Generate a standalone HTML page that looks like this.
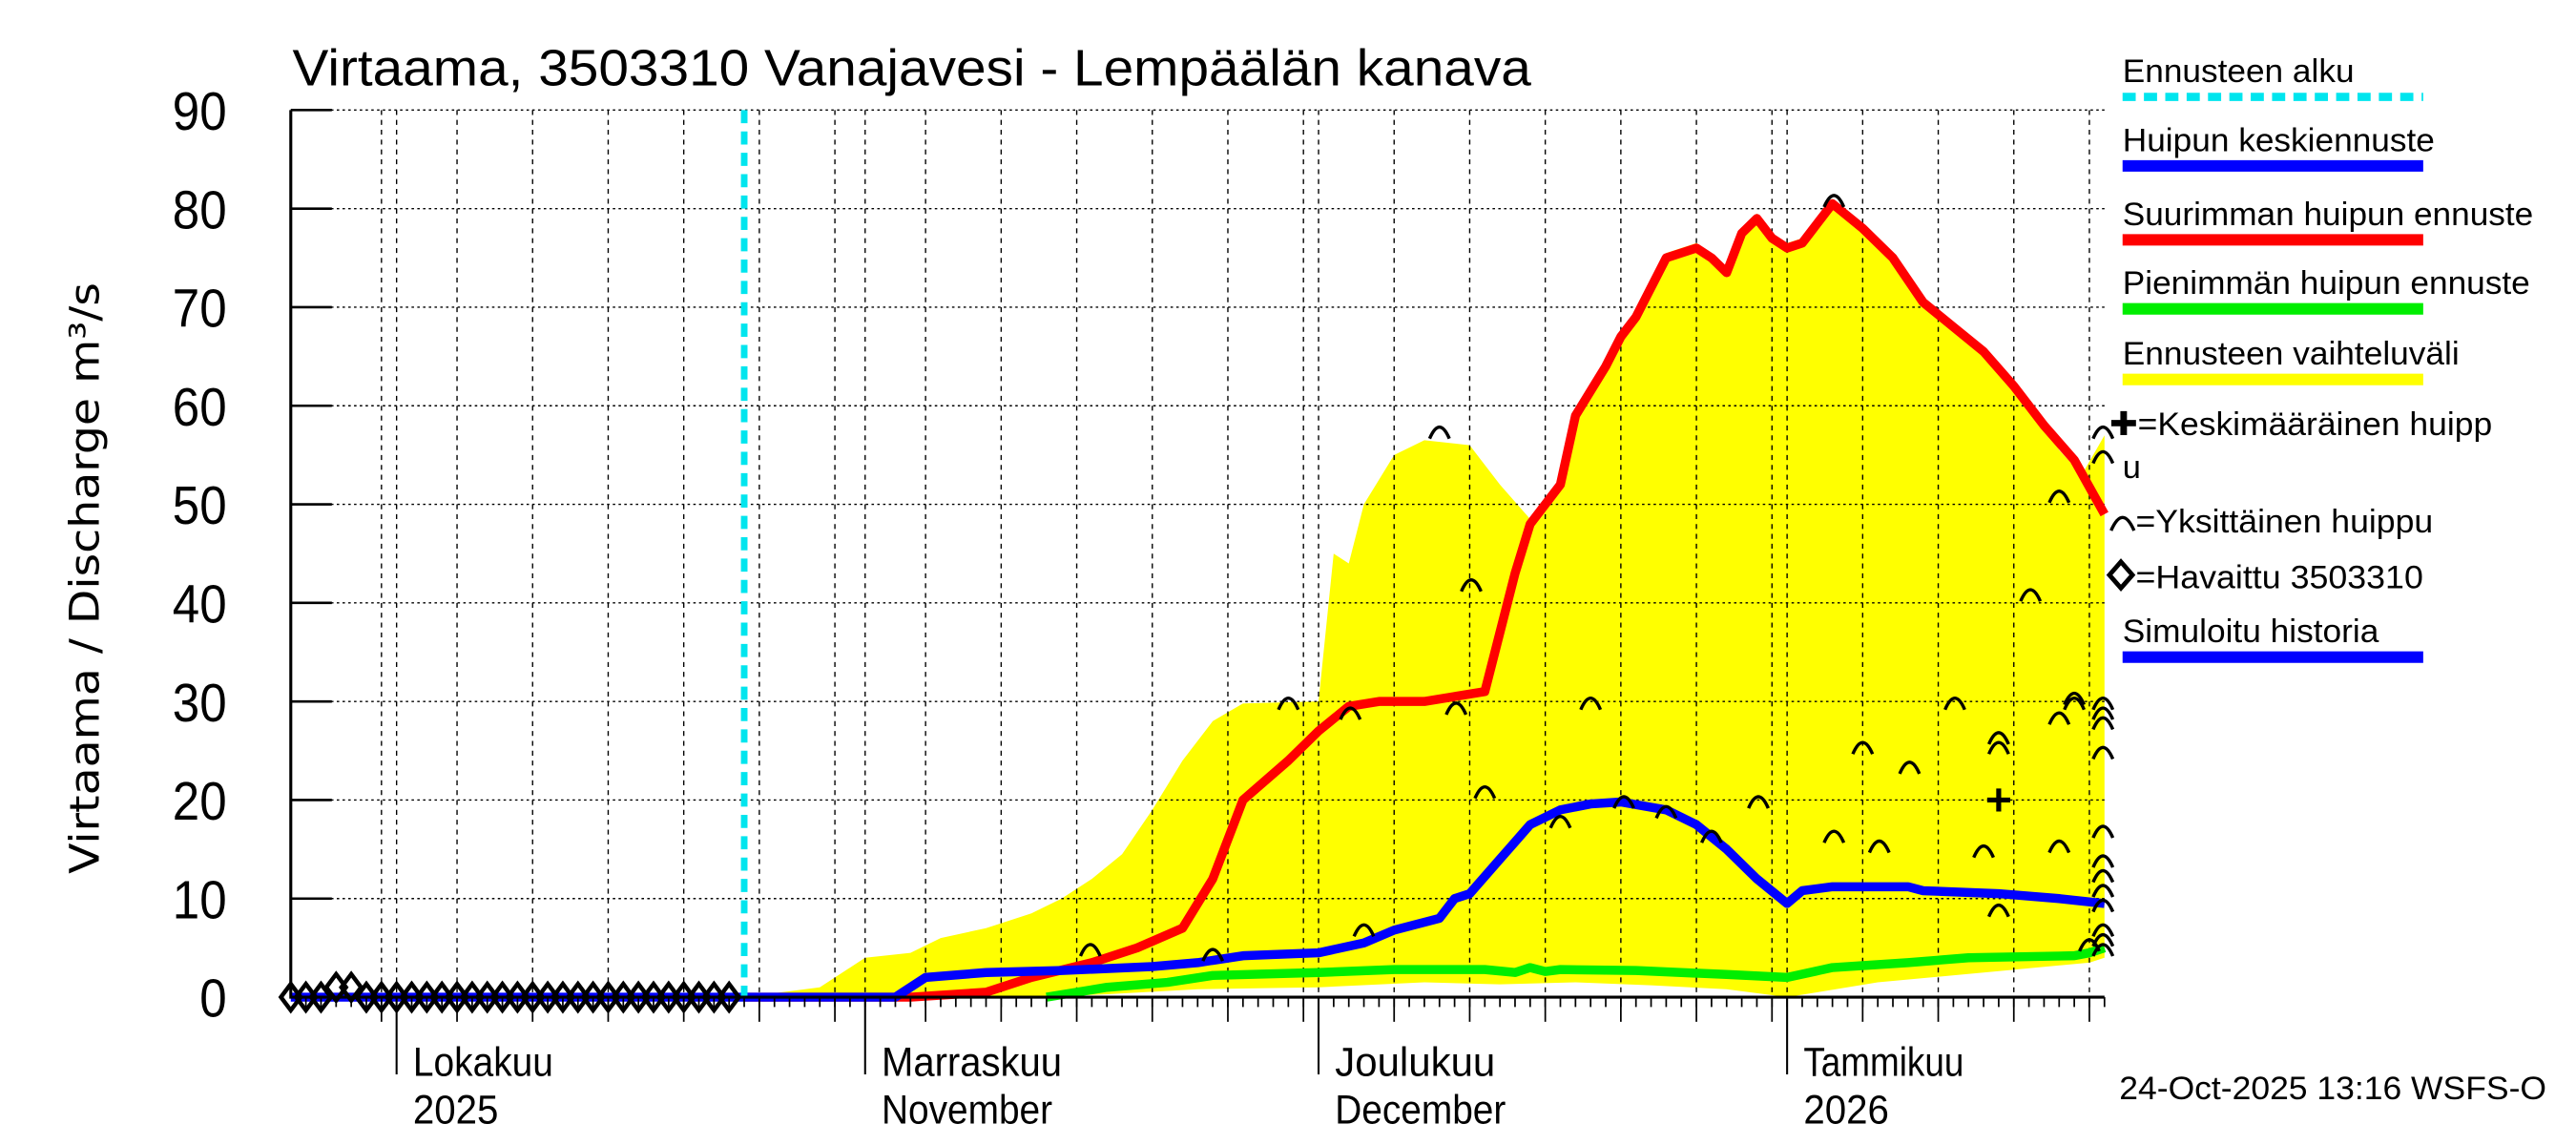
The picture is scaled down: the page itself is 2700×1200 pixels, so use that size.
<!DOCTYPE html>
<html><head><meta charset="utf-8"><style>
html,body{margin:0;padding:0;background:#fff}
svg{display:block;font-family:"Liberation Sans",sans-serif}
</style></head><body>
<svg id="chart" width="2700" height="1200" viewBox="0 0 1568 697" preserveAspectRatio="none" xmlns="http://www.w3.org/2000/svg">
<rect x="0" y="0" width="1568" height="697" fill="#fff"/>
<g id="bg"></g>
<g id="grid"></g>
<g id="series"></g>
<g id="axes"></g>
<text x="178" y="52" font-size="31" textLength="754" lengthAdjust="spacingAndGlyphs">Virtaama, 3503310 Vanajavesi - Lempäälän kanava</text>
<text transform="translate(60,352) rotate(-90)" text-anchor="middle" font-size="25" textLength="360" lengthAdjust="spacingAndGlyphs" font-family="DejaVu Sans, sans-serif">Virtaama / Discharge    m³/s</text>
<text x="1290" y="669" font-size="20" textLength="260" lengthAdjust="spacingAndGlyphs">24-Oct-2025 13:16 WSFS-O</text>
<g id="legend" font-size="20">
 <text x="1292" y="50" textLength="141" lengthAdjust="spacingAndGlyphs">Ennusteen alku</text>
 <line x1="1292" y1="59" x2="1475" y2="59" stroke="#00e5ee" stroke-width="5" stroke-dasharray="8,5"/>
 <text x="1292" y="92" textLength="190" lengthAdjust="spacingAndGlyphs">Huipun keskiennuste</text>
 <line x1="1292" y1="101" x2="1475" y2="101" stroke="#0000ff" stroke-width="7"/>
 <text x="1292" y="137" textLength="250" lengthAdjust="spacingAndGlyphs">Suurimman huipun ennuste</text>
 <line x1="1292" y1="146" x2="1475" y2="146" stroke="#ff0000" stroke-width="7"/>
 <text x="1292" y="179" textLength="248" lengthAdjust="spacingAndGlyphs">Pienimmän huipun ennuste</text>
 <line x1="1292" y1="188" x2="1475" y2="188" stroke="#00ee00" stroke-width="7"/>
 <text x="1292" y="222" textLength="205" lengthAdjust="spacingAndGlyphs">Ennusteen vaihteluväli</text>
 <line x1="1292" y1="231" x2="1475" y2="231" stroke="#ffff00" stroke-width="7"/>
 <text x="1284" y="265" textLength="233" lengthAdjust="spacingAndGlyphs">✚=Keskimääräinen huipp</text>
 <text x="1292" y="291">u</text>
 <path d="M1285 323 Q1292 307 1299 323" fill="none" stroke="#000" stroke-width="2"/>
 <text x="1300" y="324" textLength="181" lengthAdjust="spacingAndGlyphs">=Yksittäinen huippu</text>
 <path d="M1291 342 L1298 350 L1291 358 L1284 350 Z" fill="none" stroke="#000" stroke-width="2.8"/>
 <text x="1300" y="358" textLength="175" lengthAdjust="spacingAndGlyphs">=Havaittu 3503310</text>
 <text x="1292" y="391" textLength="156" lengthAdjust="spacingAndGlyphs">Simuloitu historia</text>
 <line x1="1292" y1="400" x2="1475" y2="400" stroke="#0000ff" stroke-width="7"/>
</g>
<script>
// day index: days since forecast start (24 Oct 2025)
const obsDays = [-30,-29,-28,-27,-26,-25,-24,-23,-22,-21,-20,-19,-18,-17,-16,-15,-14,-13,-12,-11,-10,-9,-8,-7,-6,-5,-4,-3,-2,-1];
const obsVals = [0,0,0,1,1,0,0,0,0,0,0,0,0,0,0,0,0,0,0,0,0,0,0,0,0,0,0,0,0,0];
const simDays = [-30,0];
const simVals = [0,0];
const maxDays = [0,11,16,19,23,26,29,31,33,36,38,40,42,45,49,51,52,54,55,57,58,59,61,63,64,65,66,67,68,69,70,72,74,76,78,80,82,84,86,88,90];
const maxVals = [0,0,0.5,2,3.5,5,7,12,20,24,27,29.5,30,30,31,43,48,52,59,64,67,69,75,76,75,73.5,77.5,79,77,76,76.5,80.5,78,75,70.5,68,65.5,62,58,54.5,49];
const meanDays = [0,10,10.5,12,16,21,27,30,33,38,41,43,46,47,48,50,52,54,56,58,61,63,65,67,69,70,72,77,78,83,87,90];
const meanVals = [0,0,0.5,2,2.5,2.7,3.1,3.5,4.2,4.5,5.5,6.8,8,10,10.5,14,17.5,19,19.6,19.8,19,17.5,15,12,9.5,10.8,11.2,11.2,10.8,10.5,10,9.5];
const minDays = [20,24,28,31,38,43,49,51,52,53,54,59,65,69,72,77,81,88,89,90];
const minVals = [0,1,1.5,2.2,2.5,2.8,2.8,2.5,3,2.6,2.8,2.7,2.3,2,3,3.5,4,4.2,4.5,5];
const upDays = [0,5,8,11,13,16,19,21,23,25,27,29,31,33,38,39,40,41,43,45,48,50,52,54,55,57,58,59,61,63,64,65,66,67,68,69,70,72,74,76,78,80,82,84,86,87,88.5,90];
const upVals = [0,1,4,4.5,6,7,8.5,10,12,14.5,19,24,28,29.8,30,45,44,50,55,56.5,56,52,48.5,52.5,59.5,64.5,67.5,69.5,75.5,76.5,75.5,74,78,79.5,77.5,76.5,77,81,78.5,75.5,71,68.5,66,62.5,58.5,55.5,53,57];
const loDays = [0,20,24,30,38,45,50,55,60,65,69,75,82,89,90];
const loVals = [0,0,0.3,0.8,1,1.5,1.3,1.5,1.2,0.8,0,1.5,2.5,3.5,4];
const peakDays = [22.9,31,36,40.1,41,46,47.1,48.1,49,54,56,58.2,61,64,67.1,72.1,72.1,74,75.1,77.1,80.1,82,83,83,83,85.1,87,87,87,88,88,89,89.9,89.9,89.9,89.9,89.9,89.9,89.9,89.9,89.9,89.9,89.9,89.9,89.9,89.9];
const peakVals = [5,4.5,30,29,7,57.5,29.5,42,21,18,30,20,19,16.5,20,81,16.5,25.5,15.5,23.5,30,15,26.5,25.5,9,41,51,28.5,15.5,30.5,30,5.5,57.5,55,30,29,28,25,17,14,12.5,11,9.5,7,6,5];
const avgPeakDay = [83];
const avgPeakVal = [20];
const yTicks = [0,10,20,30,40,50,60,70,80,90];
const monthDays = [-23,8,38,69];
const monthLabels = [["Lokakuu","2025"],["Marraskuu","November"],["Joulukuu","December"],["Tammikuu","2026"]];
const gridDays = [-24,-19,-14,-9,-4,1,6,12,17,22,27,32,37,43,48,53,58,63,68,74,79,84,89];

const NS="http://www.w3.org/2000/svg";
const X0=177,X1=1281,Y0=607,Y90=67;
const xs=d=>453+d*9.2;
const ys=v=>Y0-(v/90)*(Y0-Y90);
function mk(tag,attrs,parent){const e=document.createElementNS(NS,tag);for(const k in attrs)e.setAttribute(k,attrs[k]);document.getElementById(parent).appendChild(e);return e;}
function pts(ds,vs){return ds.map((d,i)=>xs(d).toFixed(1)+","+ys(vs[i]).toFixed(1));}

let bp=pts(upDays,upVals).concat(pts(loDays,loVals).reverse());
let band=mk("polygon",{points:bp.join(" "),fill:"#ffff00",stroke:"none"},"bg");



yTicks.forEach(v=>{if(v===0)return;
 let g=mk("line",{x1:X0,x2:X1,y1:ys(v),y2:ys(v),stroke:"#000","stroke-width":0.8,"stroke-dasharray":"1.5,2"},"grid");
 
 
});
gridDays.concat(monthDays).forEach(d=>{
 let g=mk("line",{x1:xs(d),x2:xs(d),y1:Y90,y2:Y0,stroke:"#000","stroke-width":0.8,"stroke-dasharray":"3,3"},"grid");
 
 
});

function line(ds,vs,color,w,name){
 let p=mk("polyline",{points:pts(ds,vs).join(" "),fill:"none",stroke:color,"stroke-width":w,"stroke-linejoin":"round"},"series");
 
 
}
line(minDays,minVals,"#00ee00",5.5,"min-peak-line");
line(maxDays,maxVals,"#ff0000",5.5,"max-peak-line");
line(simDays,simVals,"#0000ff",5.5,"simulated-history-line");
line(meanDays,meanVals,"#0000ff",5.5,"mean-peak-line");

let fs=mk("line",{x1:xs(0),x2:xs(0),y1:Y90,y2:Y0,stroke:"#00e5ee","stroke-width":4,"stroke-dasharray":"8,5"},"series");



peakDays.forEach((d,i)=>{
 const x=xs(d),y=ys(peakVals[i]);
 let a=mk("path",{d:`M${x-6} ${y+5} Q${x} ${y-9} ${x+6} ${y+5}`,fill:"none",stroke:"#000","stroke-width":2},"series");
 
 
});
avgPeakDay.forEach((d,i)=>{
 const x=xs(d),y=ys(avgPeakVal[i]);
 let a=mk("path",{d:`M${x-7} ${y} H${x+7} M${x} ${y-7} V${y+7}`,stroke:"#000","stroke-width":3},"series");
 
 
});
obsDays.forEach((d,i)=>{
 const x=xs(d),y=ys(obsVals[i]);
 let a=mk("path",{d:`M${x} ${y-8} L${x+6} ${y} L${x} ${y+8} L${x-6} ${y} Z`,fill:"none",stroke:"#000","stroke-width":2.6},"series");
 
 
});

let ax=mk("path",{d:`M${X0} ${Y90} V${Y0} H${X1}`,fill:"none",stroke:"#000","stroke-width":1.8},"axes");


yTicks.forEach(v=>{
 let t=mk("line",{x1:X0,x2:X0+25,y1:ys(v),y2:ys(v),stroke:"#000","stroke-width":1.5},"axes");
 
 
 let l=mk("text",{x:138,y:ys(v)+12,"text-anchor":"end","font-size":33,textLength:String(v).length*16.5,lengthAdjust:"spacingAndGlyphs"},"axes");
 l.textContent=v;
 
 
});
for(let d=-29;d<=90;d++){
 let t=mk("line",{x1:xs(d),x2:xs(d),y1:Y0,y2:Y0+6,stroke:"#000","stroke-width":1},"axes");
 
 
}
gridDays.forEach(d=>{
 let t=mk("line",{x1:xs(d),x2:xs(d),y1:Y0,y2:Y0+15,stroke:"#000","stroke-width":1},"axes");
 
 
});
monthDays.forEach((d,i)=>{
 let t=mk("line",{x1:xs(d),x2:xs(d),y1:Y0,y2:Y0+47,stroke:"#000","stroke-width":1.2},"axes");
 
 
 let a=mk("text",{x:xs(d)+10,y:655,"font-size":25,textLength:monthLabels[i][0].length*12.2,lengthAdjust:"spacingAndGlyphs"},"axes");
 a.textContent=monthLabels[i][0];
 
 
 let b=mk("text",{x:xs(d)+10,y:684,"font-size":25,textLength:monthLabels[i][1].length*13,lengthAdjust:"spacingAndGlyphs"},"axes");
 b.textContent=monthLabels[i][1];
 
 
});
</script>
</svg>
</body></html>
